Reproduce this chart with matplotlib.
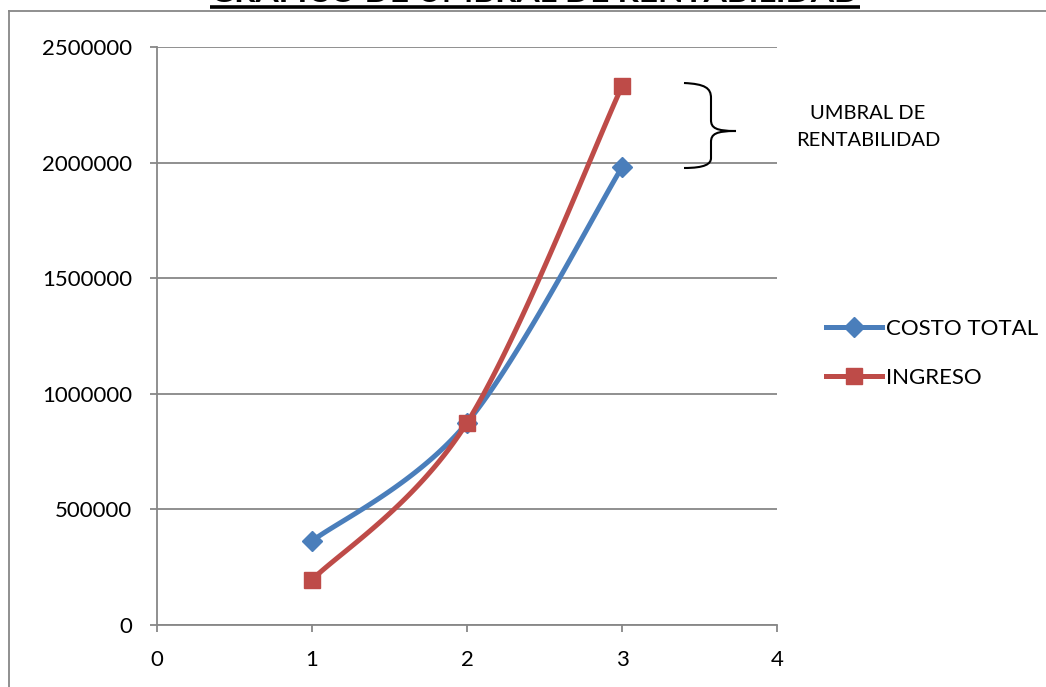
import numpy as np
import matplotlib
matplotlib.use("Agg")
import matplotlib.pyplot as plt
from matplotlib.path import Path
from matplotlib.patches import PathPatch
from matplotlib.lines import Line2D

plt.rcParams['font.family'] = ['Lato', 'DejaVu Sans']

# data
x_vals = [1, 2, 3]
costo_total = [363000, 875000, 1980000]
ingreso = [195000, 875000, 2330000]
series_names = ["COSTO TOTAL", "INGRESO"]
title = "GRAFICO DE UMBRAL DE RENTABILIDAD"
annot = "UMBRAL DE\nRENTABILIDAD"
x_ticks = [0, 1, 2, 3, 4]
y_ticks = [0, 500000, 1000000, 1500000, 2000000, 2500000]

BLUE = "#4A7EBB"
RED = "#BE4B48"
GRID = "#878787"

W, H = 1046, 687
fig = plt.figure(figsize=(W / 100, H / 100), dpi=100)
ax = fig.add_axes([157 / W, 1 - 625 / H, (777 - 157) / W, (625 - 47) / H])


def smooth(xs, ys, n=60):
    """Excel-like smoothed line (Catmull-Rom bezier)."""
    P = np.column_stack([xs, ys]).astype(float)
    out = []
    for i in range(len(P) - 1):
        p0 = P[i - 1] if i > 0 else P[i]
        p1 = P[i]
        p2 = P[i + 1]
        p3 = P[i + 2] if i + 2 < len(P) else P[i + 1]
        c1 = p1 + (p2 - p0) / 6.0
        c2 = p2 - (p3 - p1) / 6.0
        t = np.linspace(0, 1, n)[:, None]
        seg = ((1 - t) ** 3) * p1 + 3 * ((1 - t) ** 2) * t * c1 + 3 * (1 - t) * t ** 2 * c2 + t ** 3 * p2
        out.append(seg if i == 0 else seg[1:])
    arr = np.vstack(out)
    return arr[:, 0], arr[:, 1]


for ys, col, mk, ms in [(costo_total, BLUE, 'D', 10), (ingreso, RED, 's', 12)]:
    sx, sy = smooth(x_vals, ys)
    ax.plot(sx, sy, color=col, lw=3.6, solid_capstyle='round', zorder=3)
    ax.plot(x_vals, ys, ls='none', marker=mk, ms=ms, color=col, mec=col, zorder=4)

ax.set_xlim(0, 4)
ax.set_ylim(0, 2500000)
ax.set_xticks(x_ticks)
ax.set_yticks(y_ticks)
ax.set_xticklabels([str(v) for v in x_ticks])
ax.set_yticklabels([str(v) for v in y_ticks])
ax.tick_params(axis='both', direction='out', length=5, width=1.3, color=GRID,
               labelsize=16)
ax.tick_params(axis='y', pad=13)
ax.tick_params(axis='x', pad=13)
ax.yaxis.grid(True, color=GRID, lw=1.3)
ax.set_axisbelow(True)
for s in ['top', 'right']:
    ax.spines[s].set_visible(False)
for s in ['left', 'bottom']:
    ax.spines[s].set_color(GRID)
    ax.spines[s].set_linewidth(1.3)

# legend
handles = [Line2D([], [], color=BLUE, lw=3.6, marker='D', ms=10),
           Line2D([], [], color=RED, lw=3.6, marker='s', ms=12)]
fig.legend(handles, series_names, loc='center left',
           bbox_to_anchor=(826 / W, 1 - 353.5 / H), bbox_transform=fig.transFigure,
           frameon=False, fontsize=16, handlelength=2.5, handletextpad=0.2,
           labelspacing=1.3, borderpad=0, borderaxespad=0)

# outer chart frame (left and top visible)
fig.add_artist(Line2D([8.5 / W, 8.5 / W], [0, 1 - 10.5 / H], color=GRID, lw=1.3,
                      transform=fig.transFigure))
fig.add_artist(Line2D([8.5 / W, 1], [1 - 10.5 / H, 1 - 10.5 / H], color=GRID, lw=1.3,
                      transform=fig.transFigure))

# title (partly cut off at the top), bold underlined
t = fig.text(535 / W, 1 - 2 / H, title, ha='center', va='baseline',
             fontsize=24, fontweight='bold', color='black')
fig.canvas.draw()
bb = t.get_window_extent(fig.canvas.get_renderer())
fig.add_artist(Line2D([bb.x0 / W, bb.x1 / W], [1 - 7 / H, 1 - 7 / H], color='black', lw=2.6,
                      transform=fig.transFigure, solid_capstyle='butt'))

# brace annotation
def fp(px, py):
    return (px / W, 1 - py / H)

verts = [fp(684, 83), fp(705, 84), fp(711, 88), fp(711, 98),
         fp(711, 120),
         fp(711, 128), fp(716, 131), fp(736, 131),
         fp(716, 131), fp(711, 134), fp(711, 142),
         fp(711, 158),
         fp(711, 164), fp(705, 168), fp(684, 168)]
codes = [Path.MOVETO, Path.CURVE4, Path.CURVE4, Path.CURVE4,
         Path.LINETO,
         Path.CURVE4, Path.CURVE4, Path.CURVE4,
         Path.CURVE4, Path.CURVE4, Path.CURVE4,
         Path.LINETO,
         Path.CURVE4, Path.CURVE4, Path.CURVE4]
fig.add_artist(PathPatch(Path(verts, codes), fill=False, edgecolor='black', lw=1.5,
                         transform=fig.transFigure))
fig.text(868 / W, 1 - 127 / H, annot, ha='center', va='center', fontsize=14.5,
         linespacing=1.75, color='black')

fig.savefig("out.png", dpi=100)
